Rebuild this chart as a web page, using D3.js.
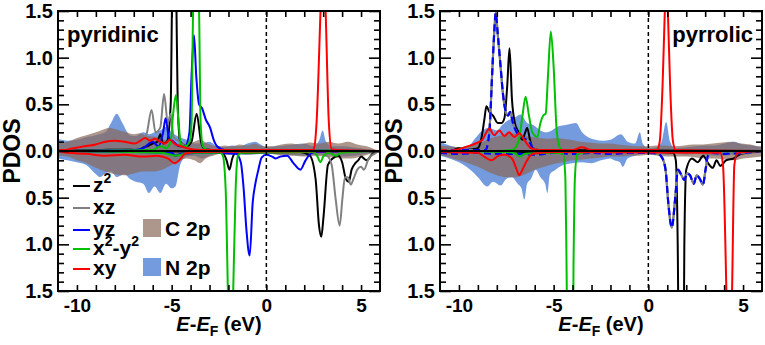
<!DOCTYPE html>
<html>
<head>
<meta charset="utf-8">
<script src="https://cdnjs.cloudflare.com/ajax/libs/d3/7.8.5/d3.min.js"></script>
<style>
	body { margin: 0; background: #fff; }
	svg { font-family: "Liberation Sans", Arial, sans-serif; font-weight: bold; }
</style>
</head>
<body>
<script>
// Energy window and tick values
var xDomain = [-11, 6];
var yDomain = [-1.5, 1.5];
var xMajorTicks = [-10, -5, 0, 5];
var yMajorTicks = [-1.5, -1.0, -0.5, 0.0, 0.5, 1.0, 1.5];
var panelNames = ["pyridinic", "pyrrolic"];
var orbitalNames = ["z2", "xz", "yz", "x2-y2", "xy"];
var speciesNames = ["C 2p", "N 2p"];

// ---------- pyridinic panel: [E - EF, PDOS] ----------
var pydCUp = [[-11,0.08],[-10.5,0.1],[-10,0.14],[-9.5,0.17],[-9,0.2],[-8.6,0.23],[-8.3,0.25],[-7.9,0.23],[-7.4,0.2],[-7,0.18],[-6.7,0.19],[-6.3,0.16],[-5.8,0.15],[-5.4,0.12],[-5,0.1],[-4.6,0.08],[-4.2,0.08],[-3.8,0.1],[-3.5,0.12],[-3.1,0.08],[-2.6,0.05],[-2.2,0.06],[-1.8,0.05],[-1.4,0.07],[-1,0.06],[-0.6,0.08],[-0.2,0.05],[0.3,0.05],[0.8,0.07],[1.3,0.08],[1.8,0.07],[2.3,0.09],[2.8,0.08],[3.3,0.1],[3.8,0.08],[4.3,0.1],[4.8,0.07],[5.3,0.05],[5.7,0.02],[6,0]];
var pydCDn = [[-11,-0.05],[-10.5,-0.06],[-10,-0.1],[-9.5,-0.13],[-9,-0.18],[-8.5,-0.22],[-8,-0.25],[-7.5,-0.26],[-7,-0.24],[-6.5,-0.22],[-6,-0.22],[-5.5,-0.2],[-5,-0.15],[-4.6,-0.1],[-4.2,-0.08],[-3.8,-0.1],[-3.5,-0.13],[-3.2,-0.08],[-2.8,-0.05],[-2.4,-0.03],[-2,-0.04],[-1.5,-0.03],[-1,-0.04],[-0.5,-0.03],[0,-0.02],[0.5,-0.04],[1,-0.05],[1.5,-0.05],[2,-0.06],[2.5,-0.05],[3,-0.06],[3.5,-0.07],[4,-0.08],[4.5,-0.08],[5,-0.06],[5.5,-0.03],[6,0]];
var pydNUp = [[-11,0.13],[-10.5,0.11],[-10,0.12],[-9.5,0.15],[-9,0.17],[-8.5,0.2],[-8.2,0.3],[-7.9,0.4],[-7.6,0.3],[-7.2,0.17],[-6.9,0.16],[-6.5,0.2],[-6.2,0.18],[-5.9,0.2],[-5.6,0.22],[-5.3,0.26],[-5,0.2],[-4.6,0.15],[-4.2,0.12],[-3.8,0.08],[-3.4,0.08],[-3,0.1],[-2.6,0.05],[-2.2,0.04],[-1.8,0.06],[-1.4,0.05],[-1,0.08],[-0.6,0.1],[-0.3,0.07],[0,0.04],[0.5,0.05],[1,0.06],[1.5,0.07],[2,0.08],[2.5,0.05],[2.8,0.12],[2.97,0.22],[3.15,0.1],[3.5,0.05],[4,0.05],[4.5,0.04],[5,0.03],[5.5,0.01],[6,0]];
var pydNDn = [[-11,-0.08],[-10.5,-0.1],[-10,-0.12],[-9.5,-0.15],[-9,-0.25],[-8.8,-0.28],[-8.5,-0.24],[-8.2,-0.22],[-7.9,-0.28],[-7.5,-0.25],[-7.2,-0.3],[-6.9,-0.33],[-6.5,-0.35],[-6.2,-0.45],[-5.9,-0.38],[-5.6,-0.45],[-5.3,-0.35],[-5,-0.4],[-4.8,-0.38],[-4.55,-0.15],[-4.2,-0.06],[-3.8,-0.05],[-3.4,-0.08],[-3,-0.05],[-2.5,-0.03],[-2,-0.04],[-1,-0.04],[0,-0.03],[1,-0.04],[2,-0.05],[3,-0.04],[4,-0.06],[5,-0.04],[6,0]];

var pydZ2Up = [[-11,0],[-9,0.01],[-7,0.02],[-6.3,0.05],[-6,0.08],[-5.75,0.1],[-5.6,0.18],[-5.45,0.08],[-5.25,0.1],[-5.05,0.5],[-4.98,1.6],[-4.87,2.4],[-4.75,1.6],[-4.68,0.5],[-4.55,0.1],[-4.2,0.05],[-3.95,0.1],[-3.68,0.4],[-3.45,0.1],[-3.25,0.02],[-2,0],[6,0]];
var pydZ2Dn = [[-11,0],[-3,-0.01],[-2.3,-0.02],[-2.1,-0.1],[-1.95,-0.2],[-1.8,-0.08],[-1.6,-0.02],[1.8,-0.01],[2.3,-0.05],[2.6,-0.3],[2.78,-0.8],[2.9,-0.92],[3.02,-0.7],[3.25,-0.15],[3.5,-0.08],[3.8,-0.05],[4.0,-0.12],[4.2,-0.3],[4.35,-0.33],[4.5,-0.2],[4.7,-0.13],[4.85,-0.1],[5.0,-0.06],[5.3,-0.1],[5.6,-0.03],[6,0]];
var pydXzUp = [[-11,0],[-8,0.01],[-7,0.02],[-6.6,0.05],[-6.3,0.2],[-6.06,0.44],[-5.85,0.2],[-5.6,0.25],[-5.4,0.61],[-5.2,0.3],[-5.05,0.4],[-4.9,0.15],[-4.6,0.1],[-4.3,0.05],[-4,0.03],[-3,0.01],[6,0]];
var pydXzDn = [[-11,0],[2.5,-0.01],[3.2,-0.05],[3.45,-0.15],[3.65,-0.5],[3.87,-0.8],[4.02,-0.5],[4.15,-0.28],[4.3,-0.28],[4.45,-0.36],[4.6,-0.3],[4.8,-0.2],[5.0,-0.17],[5.15,-0.2],[5.4,-0.08],[5.7,-0.03],[6,0]];
var pydYzUp = [[-11,0],[-7,0.01],[-6.5,0.03],[-6.0,0.1],[-5.7,0.05],[-5.45,0.2],[-5.32,0.35],[-5.15,0.15],[-4.9,0.1],[-4.6,0.05],[-4.3,0.05],[-4.06,0.2],[-3.95,0.8],[-3.82,1.24],[-3.7,0.8],[-3.55,0.5],[-3.4,0.46],[-3.2,0.34],[-2.97,0.25],[-2.78,0.12],[-2.6,0.05],[-2.2,0.01],[6,0]];
var pydYzDn = [[-11,0],[-5,-0.02],[-4.8,-0.05],[-4.5,-0.03],[-3,-0.02],[-1.6,-0.03],[-1.35,-0.12],[-1.2,-0.4],[-1.05,-0.85],[-0.88,-1.12],[-0.72,-0.55],[-0.58,-0.35],[-0.42,-0.2],[-0.25,-0.07],[0,-0.04],[0.3,-0.06],[0.5,-0.08],[0.74,-0.06],[1.1,-0.05],[1.43,-0.13],[1.8,-0.2],[2.07,-0.1],[2.4,-0.02],[2.7,-0.01],[6,0]];
var pydX2y2Up = [[-11,0],[-6,0.01],[-5.6,0.05],[-5.3,0.03],[-5.05,0.1],[-4.92,0.4],[-4.77,0.6],[-4.65,0.35],[-4.5,0.05],[-4.3,0.05],[-4.05,0.1],[-3.95,0.3],[-3.87,1.5],[-3.71,2.6],[-3.55,1.5],[-3.47,0.3],[-3.35,0.05],[-3.1,0.01],[6,0]];
var pydX2y2Dn = [[-11,0],[-5.5,-0.02],[-4.8,-0.05],[-4,-0.02],[-2.45,-0.02],[-2.3,-0.05],[-2.15,-0.4],[-2.03,-1.5],[-1.89,-2.6],[-1.75,-1.5],[-1.62,-0.4],[-1.5,-0.05],[-1.3,-0.02],[2.5,-0.01],[2.7,-0.06],[2.86,-0.12],[3.0,-0.06],[3.3,-0.02],[3.7,-0.05],[3.9,-0.02],[6,0]];
var pydXyUp = [[-11,0.01],[-10.65,0.01],[-10.2,0.03],[-9.6,0.05],[-9.0,0.07],[-8.5,0.1],[-8.0,0.11],[-7.5,0.1],[-6.94,0.08],[-6.65,0.11],[-6.4,0.14],[-6.15,0.11],[-5.9,0.13],[-5.6,0.1],[-5.35,0.08],[-5.1,0.12],[-4.8,0.07],[-4.5,0.05],[-4.2,0.03],[-3.5,0.01],[2.4,0.01],[2.5,0.02],[2.65,0.3],[2.86,1.5],[3.0,2.3],[3.13,1.5],[3.3,0.3],[3.45,0.02],[3.7,0.01],[6,0]];
var pydXyDn = [[-11,0],[-10.5,-0.02],[-9.5,-0.03],[-8.5,-0.05],[-7.5,-0.04],[-6.5,-0.06],[-5.8,-0.05],[-5.2,-0.08],[-4.85,-0.13],[-4.6,-0.1],[-4.3,-0.03],[-3.8,-0.01],[6,0]];

// ---------- pyrrolic panel ----------
var pyrCUp = [[-11,0.06],[-10.5,0.05],[-10,0.04],[-9.5,0.06],[-9,0.08],[-8.5,0.12],[-8.1,0.15],[-7.7,0.17],[-7.3,0.19],[-6.9,0.18],[-6.5,0.16],[-6.1,0.15],[-5.7,0.14],[-5.3,0.13],[-4.9,0.14],[-4.5,0.13],[-4.1,0.12],[-3.6,0.1],[-3.1,0.09],[-2.6,0.08],[-2.1,0.08],[-1.6,0.07],[-1.1,0.06],[-0.6,0.05],[-0.1,0.05],[0.4,0.06],[0.9,0.06],[1.4,0.05],[1.9,0.06],[2.4,0.07],[2.9,0.07],[3.4,0.08],[3.9,0.09],[4.4,0.1],[4.9,0.08],[5.4,0.07],[5.8,0.05],[6,0.05]];
var pyrCDn = [[-11,-0.04],[-10.5,-0.07],[-10,-0.1],[-9.5,-0.13],[-9,-0.17],[-8.5,-0.22],[-8,-0.26],[-7.5,-0.28],[-7,-0.28],[-6.5,-0.25],[-6,-0.2],[-5.5,-0.17],[-5,-0.14],[-4.5,-0.12],[-4,-0.1],[-3.5,-0.09],[-3,-0.08],[-2.5,-0.07],[-2,-0.06],[-1.5,-0.06],[-1,-0.05],[-0.5,-0.05],[0,-0.04],[0.5,-0.05],[1,-0.06],[1.5,-0.06],[2,-0.06],[2.5,-0.07],[3,-0.08],[3.5,-0.08],[4,-0.09],[4.5,-0.1],[5,-0.08],[5.5,-0.07],[6,-0.06]];
var pyrNUp = [[-11,0.1],[-10.5,0.06],[-10,0.04],[-9.5,0.05],[-9.2,0.12],[-8.76,0.22],[-8.4,0.25],[-8,0.22],[-7.7,0.28],[-7.4,0.33],[-7.1,0.35],[-6.75,0.39],[-6.4,0.3],[-6.1,0.28],[-5.7,0.22],[-5.4,0.2],[-5.1,0.22],[-4.8,0.26],[-4.3,0.28],[-3.83,0.3],[-3.5,0.2],[-3.2,0.15],[-2.8,0.12],[-2.4,0.11],[-2,0.12],[-1.45,0.18],[-1.1,0.1],[-0.7,0.08],[-0.45,0.2],[-0.3,0.08],[0,0.03],[0.4,0.04],[0.7,0.1],[0.94,0.31],[1.15,0.1],[1.4,0.03],[2,0.04],[2.5,0.05],[3,0.06],[3.5,0.06],[4,0.08],[4.5,0.1],[5,0.07],[5.5,0.06],[6,0.04]];
var pyrNDn = [[-11,-0.05],[-10.5,-0.08],[-10,-0.12],[-9.4,-0.2],[-9,-0.28],[-8.5,-0.38],[-8.2,-0.33],[-7.8,-0.37],[-7.5,-0.3],[-7.2,-0.28],[-6.9,-0.35],[-6.7,-0.4],[-6.55,-0.52],[-6.4,-0.35],[-6.2,-0.3],[-5.95,-0.2],[-5.7,-0.28],[-5.45,-0.35],[-5.33,-0.45],[-5.2,-0.25],[-4.9,-0.2],[-4.5,-0.15],[-4,-0.13],[-3.5,-0.12],[-3,-0.13],[-2.5,-0.1],[-2,-0.08],[-1.8,-0.1],[-1.5,-0.12],[-1.35,-0.17],[-1.1,-0.08],[-0.7,-0.05],[-0.3,-0.03],[0,-0.02],[0.5,-0.03],[1,-0.04],[1.5,-0.03],[2,-0.04],[2.5,-0.03],[3,-0.04],[3.5,-0.05],[4,-0.05],[4.5,-0.04],[5,-0.04],[5.5,-0.03],[6,-0.02]];

var pyrZ2Up = [[-11,0],[-10.3,0.01],[-10,0.03],[-9.7,0.01],[-9.3,0.02],[-9,0.03],[-8.8,0.15],[-8.65,0.35],[-8.55,0.48],[-8.4,0.42],[-8.2,0.38],[-7.95,0.3],[-7.75,0.3],[-7.6,0.35],[-7.45,0.7],[-7.33,1.1],[-7.2,0.55],[-7.05,0.3],[-6.9,0.22],[-6.65,0.12],[-6.5,0.2],[-6.4,0.25],[-6.25,0.12],[-6.1,0.03],[-5.8,0.01],[6,0]];
var pyrZ2Dn = [[-11,0],[-8,-0.02],[-6,-0.01],[0.5,-0.01],[1.3,-0.02],[1.45,-0.1],[1.55,-1.0],[1.73,-6],[1.9,-1.0],[2.0,-0.2],[2.3,-0.08],[2.6,-0.12],[2.9,-0.05],[3.15,-0.13],[3.4,-0.18],[3.6,-0.1],[3.8,-0.16],[4.1,-0.1],[4.5,-0.08],[4.9,-0.03],[6,0]];
var pyrXzUp = [[-11,0],[-10,0.01],[-9,0.01],[-8.6,0.01],[-8.4,0.19],[-8.23,0.9],[-8.14,1.26],[-8.06,1.48],[-7.95,1.25],[-7.8,0.9],[-7.68,0.62],[-7.55,0.44],[-7.4,0.38],[-7.3,0.42],[-7.15,0.3],[-6.95,0.2],[-6.6,0.14],[-6.3,0.1],[-6.05,0.02],[-5.5,0],[6,0]];
var pyrXzDn = [[-11,-0.02],[-10,-0.03],[-9,-0.02],[-8,-0.03],[-7,-0.03],[-6,-0.04],[-5,-0.02],[-4,-0.03],[-3,-0.02],[-2,-0.03],[-1,-0.02],[0,-0.02],[0.5,-0.03],[0.75,-0.08],[0.92,-0.22],[1.05,-0.55],[1.24,-0.82],[1.42,-0.5],[1.56,-0.2],[1.75,-0.26],[1.9,-0.31],[2.05,-0.24],[2.2,-0.26],[2.4,-0.35],[2.55,-0.26],[2.72,-0.3],[2.88,-0.36],[3.02,-0.2],[3.15,-0.05],[3.4,-0.02],[4,-0.03],[5,-0.02],[6,0]];
var pyrYzUp = pyrXzUp;
var pyrYzDn = pyrXzDn;
var pyrX2y2Up = [[-11,0],[-8,0],[-7.2,0.01],[-7.0,0.04],[-6.8,0.15],[-6.65,0.37],[-6.48,0.58],[-6.32,0.4],[-6.13,0.2],[-5.86,0.15],[-5.7,0.3],[-5.55,0.38],[-5.42,0.4],[-5.3,0.8],[-5.15,1.28],[-5.0,0.9],[-4.85,0.25],[-4.7,0.05],[-4.5,0],[6,0]];
var pyrX2y2Dn = [[-11,0],[-7.5,-0.01],[-7,-0.03],[-6.8,-0.06],[-6.5,-0.03],[-5,-0.02],[-4.5,-0.03],[-4.38,-0.3],[-4.32,-1.2],[-4.13,-6],[-3.95,-1.2],[-3.88,-0.3],[-3.75,-0.03],[-3,-0.01],[6,0]];
var pyrXyUp = [[-11,0.02],[-10.5,0.0],[-10,0.02],[-9.55,0.05],[-9.13,0.08],[-8.76,0.12],[-8.55,0.2],[-8.4,0.24],[-8.14,0.17],[-7.87,0.22],[-7.6,0.16],[-7.35,0.2],[-7.08,0.15],[-6.82,0.19],[-6.55,0.12],[-6.2,0.03],[-5.8,0.01],[-4,0.01],[-3.5,0.04],[-3,0.01],[0.45,0.01],[0.6,0.1],[0.75,0.7],[0.87,1.5],[0.95,1.9],[1.03,1.5],[1.15,0.7],[1.3,0.1],[1.45,0.01],[6,0]];
var pyrXyDn = [[-11,-0.01],[-9,-0.02],[-8.67,-0.06],[-8.3,-0.1],[-7.9,-0.05],[-7.6,-0.04],[-7.2,-0.08],[-6.95,-0.2],[-6.82,-0.26],[-6.65,-0.2],[-6.4,-0.1],[-6.1,-0.03],[-5,-0.01],[3.8,-0.02],[3.94,-0.15],[4.12,-1.5],[4.27,-3.0],[4.42,-1.5],[4.54,-0.15],[4.7,-0.02],[6,0]];

// Styles
var orbitalColors = {"z2": "#000000", "xz": "#808080", "yz": "#0000ff", "x2-y2": "#00c000", "xy": "#ff0000"};
var cFill = "#8a6a5a", cOpacity = 0.7;
var nFill = "#5b8ad8", nOpacity = 0.85;

// Geometry
var margin = {top: 11, left: 58};
var plot_width = 322;
var plot_height = 280;
var panel_gap = 382;

var svg = d3.select("body")
			.append("svg")
			.attr("width", 765)
			.attr("height", 345);

var xScale = d3.scaleLinear().domain(xDomain).range([0, plot_width]);
var yScale = d3.scaleLinear().domain(yDomain).range([plot_height, 0]);

var line = d3.line()
			.x(function(d){ return xScale(d[0]); })
			.y(function(d){ return yScale(d[1]); })
			.curve(d3.curveMonotoneX);

var area = d3.area()
			.x(function(d){ return xScale(d[0]); })
			.y0(yScale(0))
			.y1(function(d){ return yScale(d[1]); })
			.curve(d3.curveMonotoneX);

var panels = [
	{name: panelNames[0], labelX: 9, labelAnchor: "start", dashedYz: false,
	 C: [pydCUp, pydCDn], N: [pydNUp, pydNDn],
	 orb: {"z2": [pydZ2Up, pydZ2Dn], "xz": [pydXzUp, pydXzDn], "yz": [pydYzUp, pydYzDn], "x2-y2": [pydX2y2Up, pydX2y2Dn], "xy": [pydXyUp, pydXyDn]}},
	{name: panelNames[1], labelX: plot_width - 9, labelAnchor: "end", dashedYz: true,
	 C: [pyrCUp, pyrCDn], N: [pyrNUp, pyrNDn],
	 orb: {"z2": [pyrZ2Up, pyrZ2Dn], "xz": [pyrXzUp, pyrXzDn], "yz": [pyrYzUp, pyrYzDn], "x2-y2": [pyrX2y2Up, pyrX2y2Dn], "xy": [pyrXyUp, pyrXyDn]}}
];

panels.forEach(function(p, i){
	var g = svg.append("g")
			.attr("transform", "translate(" + (margin.left + i * panel_gap) + "," + margin.top + ")");

	// clip everything to the frame
	svg.append("clipPath").attr("id", "clip" + i)
		.append("rect").attr("width", plot_width).attr("height", plot_height);
	var plot = g.append("g").attr("clip-path", "url(#clip" + i + ")");

	// shaded N 2p then C 2p
	p.N.forEach(function(s){
		plot.append("path").attr("d", area(s)).attr("fill", nFill).attr("fill-opacity", nOpacity);
	});
	p.C.forEach(function(s){
		plot.append("path").attr("d", area(s)).attr("fill", cFill).attr("fill-opacity", cOpacity);
	});

	// orbital lines
	orbitalNames.forEach(function(o){
		p.orb[o].forEach(function(s){
			if (o == "yz" && p.dashedYz) {
				plot.append("path").attr("d", line(s)).attr("fill", "none")
					.attr("stroke", orbitalColors.xz).attr("stroke-width", 2.2);
				plot.append("path").attr("d", line(s)).attr("fill", "none")
					.attr("stroke", orbitalColors.yz).attr("stroke-width", 2.2)
					.attr("stroke-dasharray", "7,4");
			} else {
				plot.append("path").attr("d", line(s)).attr("fill", "none")
					.attr("stroke", orbitalColors[o]).attr("stroke-width", 2)
					.attr("stroke-linejoin", "round");
			}
		});
	});

	// zero line and Fermi level
	plot.append("line")
		.attr("x1", 0).attr("x2", plot_width)
		.attr("y1", yScale(0)).attr("y2", yScale(0))
		.attr("stroke", "#000").attr("stroke-width", 2);
	plot.append("line")
		.attr("x1", xScale(0)).attr("x2", xScale(0))
		.attr("y1", 0).attr("y2", plot_height)
		.attr("stroke", "#000").attr("stroke-width", 1.5)
		.attr("stroke-dasharray", "4,3");

	// axes with inward ticks
	var xMinor = d3.range(-10, 6);
	var yMinor = d3.range(-14, 15).map(function(k){ return k / 10; })
					.filter(function(v){ return Math.abs(Math.round(v * 10)) % 5 != 0; });

	var xBottom = d3.axisBottom(xScale).tickValues(xMinor).tickSizeInner(-6).tickSizeOuter(0).tickPadding(8)
					.tickFormat(function(d){ return xMajorTicks.indexOf(d) >= 0 ? String(d) : ""; });
	var xTop = d3.axisTop(xScale).tickValues(xMinor).tickSizeInner(-6).tickSizeOuter(0).tickFormat("");
	var yLeftMinor = d3.axisLeft(yScale).tickValues(yMinor).tickSizeInner(-6).tickSizeOuter(0).tickFormat("");
	var yLeftMajor = d3.axisLeft(yScale).tickValues(yMajorTicks).tickSizeInner(-11).tickSizeOuter(0).tickPadding(5)
					.tickFormat(function(d){ return Math.abs(d).toFixed(1); });
	var yRightMinor = d3.axisRight(yScale).tickValues(yMinor).tickSizeInner(-6).tickSizeOuter(0).tickFormat("");
	var yRightMajor = d3.axisRight(yScale).tickValues(yMajorTicks).tickSizeInner(-11).tickSizeOuter(0).tickFormat("");

	g.append("g").attr("class", "axis xb").attr("transform", "translate(0," + plot_height + ")").call(xBottom);
	g.append("g").attr("class", "axis").call(xTop);
	g.append("g").attr("class", "axis").call(yLeftMinor);
	g.append("g").attr("class", "axis").call(yLeftMajor);
	g.append("g").attr("class", "axis").attr("transform", "translate(" + plot_width + ",0)").call(yRightMinor);
	g.append("g").attr("class", "axis").attr("transform", "translate(" + plot_width + ",0)").call(yRightMajor);

	g.selectAll(".axis .domain").remove();
	g.selectAll(".axis line").attr("stroke", "#000").attr("stroke-width", 1.6);
	g.selectAll(".axis text").attr("font-size", 20).attr("font-weight", "bold")
		.attr("font-family", "'Liberation Sans', Arial, sans-serif").attr("fill", "#000");
	g.selectAll(".xb text").attr("font-size", 19);

	// frame
	g.append("rect").attr("width", plot_width).attr("height", plot_height)
		.attr("fill", "none").attr("stroke", "#000").attr("stroke-width", 2);

	// panel name
	g.append("text").attr("x", p.labelX).attr("y", 31)
		.attr("text-anchor", p.labelAnchor).attr("font-size", 22).text(p.name);

	// y title
	g.append("text").attr("transform", "translate(-38," + (plot_height / 2) + ") rotate(-90)")
		.attr("text-anchor", "middle").attr("font-size", 23).text("PDOS");

	// x title
	var xt = g.append("text").attr("x", plot_width / 2).attr("y", 320)
		.attr("text-anchor", "middle").attr("font-size", 20);
	xt.append("tspan").attr("font-style", "italic").text("E");
	xt.append("tspan").text("-");
	xt.append("tspan").attr("font-style", "italic").text("E");
	xt.append("tspan").attr("font-size", 14).attr("dy", 5).text("F");
	xt.append("tspan").attr("dy", -5).text(" (eV)");
});

// legend in the left panel
var legend = svg.append("g").attr("transform", "translate(" + margin.left + "," + margin.top + ")");
var legendY = [175, 197, 219, 238, 258];
orbitalNames.forEach(function(o, k){
	legend.append("line")
		.attr("x1", 15).attr("x2", 32)
		.attr("y1", legendY[k]).attr("y2", legendY[k])
		.attr("stroke", orbitalColors[o]).attr("stroke-width", 2);
	var t = legend.append("text").attr("x", 35).attr("y", legendY[k] + 6).attr("font-size", 21);
	if (o == "z2") {
		t.append("tspan").text("z");
		t.append("tspan").attr("font-size", 14).attr("dy", -9).text("2");
	} else if (o == "x2-y2") {
		t.append("tspan").text("x");
		t.append("tspan").attr("font-size", 14).attr("dy", -9).text("2");
		t.append("tspan").attr("dy", 9).text("-y");
		t.append("tspan").attr("font-size", 14).attr("dy", -9).text("2");
	} else {
		t.text(o);
	}
});
var swatchY = [208, 247];
speciesNames.forEach(function(s, k){
	legend.append("rect")
		.attr("x", 85).attr("y", swatchY[k]).attr("width", 18).attr("height", 18)
		.attr("fill", k == 0 ? cFill : nFill).attr("fill-opacity", k == 0 ? cOpacity : nOpacity);
	legend.append("text").attr("x", 107).attr("y", swatchY[k] + 17).attr("font-size", 21).text(s);
});
</script>
</body>
</html>
